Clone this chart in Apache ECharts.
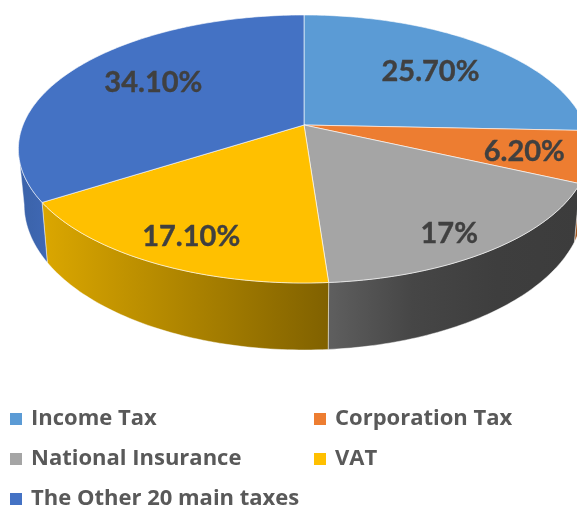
<!DOCTYPE html>
<html>
<head>
<meta charset="utf-8">
<title>UK tax receipts</title>
<script src="https://cdn.jsdelivr.net/npm/echarts@6/dist/echarts.min.js"></script>
<style>
  html, body { margin: 0; padding: 0; background: #fff; }
  #main { width: 577px; height: 506px; filter: blur(0.6px); }
</style>
</head>
<body>
<div id="main"></div>
<script>
var categories = ['Income Tax', 'Corporation Tax', 'National Insurance', 'VAT', 'The Other 20 main taxes'];
var values = [25.7, 6.2, 17, 17.1, 34.1];
var valueLabels = ['25.70%', '6.20%', '17%', '17.10%', '34.10%'];
var topColors = ['#5B9BD5', '#ED7D31', '#A5A5A5', '#FFC000', '#4472C4'];
// side wall shading, left to right
var wallColors = [
  ['#4a80b0', '#4a80b0'],
  ['#a0561f', '#a0561f'],
  ['#5f5f5f', '#464646', '#3e3e3e', '#3c3c3c'],
  ['#dba700', '#806100'],
  ['#3a62a8', '#3f68b4']
];

// fake 3D: the pie is a circle pushed through a perspective, so the front looks bigger
var cx = 304, cy = 125, rx = 281, ry = 129.7, k = 0.179;
var tangent = Math.acos(-k) * 180 / Math.PI;
var labelRadius = [0.55, 0.78, 0.82, 0.82, 0.6];
var labelNudge = [[22, -7], [0, 2], [-4, 9], [6, 2], [-10, -7]];
var total = values.reduce(function (a, b) { return a + b; }, 0);

function project (deg, f) {
  var rad = deg * Math.PI / 180;
  var t = -Math.cos(rad) * f;
  var d = 1 - k * t;
  return [cx + rx * Math.sin(rad) * f / d, cy + ry * t / d];
}
// same point on the bottom rim
function lower (p) {
  return [cx + (p[0] - cx) * 0.98, cy + (p[1] - cy) * 1.086 + 53.4];
}
function arc (a, b) {
  var pts = [];
  var n = Math.max(2, Math.ceil(Math.abs(b - a)));
  for (var i = 0; i <= n; i++) {
    pts.push(project(a + (b - a) * i / n, 1));
  }
  return pts;
}

function sliceItem (index) {
  return function (params, api) {
    var before = 0;
    for (var i = 0; i < index; i++) before += values[i];
    var start = before / total * 360;
    var end = start + api.value(0) / total * 360;
    var children = [];

    // only the part between the two silhouette points can be seen
    var a = Math.max(start, tangent), b = Math.min(end, 360 - tangent);
    if (b > a) {
      var rim = arc(a, b);
      var c = wallColors[index];
      children.push({
        type: 'polygon',
        z2: 1,
        shape: { points: rim.concat(rim.map(lower).reverse()) },
        style: {
          fill: new echarts.graphic.LinearGradient(0, 0, 1, 0, c.map(function (color, j) {
            return { offset: j / (c.length - 1), color: color };
          })),
          stroke: 'rgba(255,255,255,0.55)',
          lineWidth: 0.8
        }
      });
    }
    children.push({
      type: 'polygon',
      z2: 10,
      shape: { points: [[cx, cy]].concat(arc(start, end)) },
      style: { fill: topColors[index], stroke: 'rgba(255,255,255,0.6)', lineWidth: 1 }
    });
    var lp = project((start + end) / 2, labelRadius[index]);
    children.push({
      type: 'text',
      z2: 20,
      style: {
        x: lp[0] + labelNudge[index][0],
        y: lp[1] + labelNudge[index][1],
        text: valueLabels[index],
        align: 'center',
        verticalAlign: 'middle',
        fill: '#404040',
        stroke: '#404040',
        lineWidth: 0.4,
        font: 'bold 29px Lato'
      }
    });
    return { type: 'group', children: children };
  };
}

var legendPos = [[10, 408], [314, 408], [10, 448], [314, 448], [10, 488]];

var myChart = echarts.init(document.getElementById('main'), null, { renderer: 'canvas' });
var option = {
  backgroundColor: '#fff',
  animation: false,
  legend: categories.map(function (name, i) {
    return {
      data: [name],
      left: legendPos[i][0],
      top: legendPos[i][1],
      padding: 0,
      icon: 'rect',
      itemWidth: 12,
      itemHeight: 12,
      itemGap: 0,
      selectedMode: false,
      textStyle: { color: '#595959', fontFamily: 'Open Sans', fontWeight: 'bold', fontSize: 22, padding: [0, 0, 0, 4] }
    };
  }),
  series: categories.map(function (name, i) {
    return {
      name: name,
      type: 'custom',
      coordinateSystem: 'none',
      clip: false,
      itemStyle: { color: topColors[i] },
      renderItem: sliceItem(i),
      data: [[values[i]]]
    };
  })
};
myChart.setOption(option);
</script>
</body>
</html>
